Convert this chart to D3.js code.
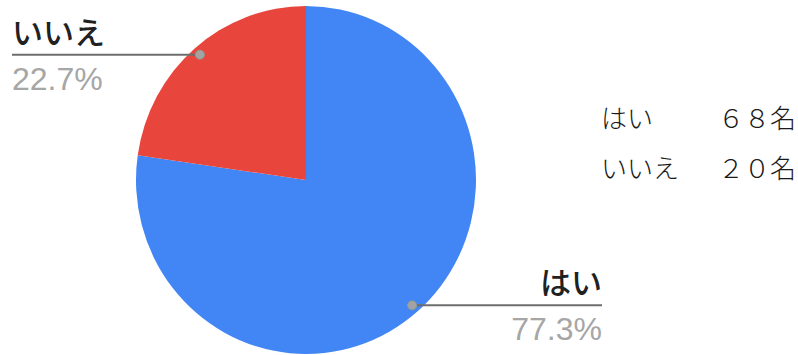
<!DOCTYPE html>
<html lang="ja">
<head>
<meta charset="utf-8">
<script src="https://cdn.jsdelivr.net/npm/d3@7"></script>
<style>
  html, body { margin: 0; padding: 0; background: #ffffff; }
  svg { display: block; }
</style>
</head>
<body>
<svg id="chart" width="798" height="355"></svg>
<script>
// Survey answers and head counts
const categories = ["はい", "いいえ"];
const counts = [68, 20];
const colors = ["#4285f4", "#e8453c"];
// Count table shown to the right of the pie
const tableLabels = ["はい", "いいえ"];
const tableCounts = ["６８名", "２０名"];

const svg = d3.select("#chart");
const cx = 306, cy = 180, r = 170, yStretch = 174 / 170;

const total = d3.sum(counts);
const data = categories.map((c, i) => ({ name: c, value: counts[i], color: colors[i] }));

// Slices: "はい" runs clockwise from 12 o'clock, "いいえ" fills the rest
const pie = d3.pie().sort(null).value(d => d.value);
const arcs = pie(data);
const arc = d3.arc().innerRadius(0).outerRadius(r);
const dotArc = d3.arc().innerRadius(162).outerRadius(162);

const g = svg.append("g").attr("transform", `translate(${cx},${cy}) scale(1,${yStretch})`);
g.selectAll("path.slice")
  .data(arcs)
  .join("path")
  .attr("class", "slice")
  .attr("d", arc)
  .attr("fill", d => d.data.color);

const fmt = d3.format(".1%");

// Callout geometry per slice: label side, line end x
const callouts = {
  "はい":   { side: "right", x: 602 },
  "いいえ": { side: "left",  x: 12 }
};

arcs.forEach(a => {
  const [dx, dy] = dotArc.centroid(a);
  const px = cx + dx, py = cy + dy * yStretch;
  const c = callouts[a.data.name];
  const anchor = c.side === "left" ? "start" : "end";

  svg.append("line")
    .attr("x1", c.x).attr("x2", px)
    .attr("y1", py).attr("y2", py)
    .attr("stroke", "#6e6e6e")
    .attr("stroke-width", 2);

  svg.append("circle")
    .attr("cx", px).attr("cy", py).attr("r", 4.5)
    .attr("fill", "#a3a3a3")
    .attr("stroke", "#8f9a92")
    .attr("stroke-width", 1);

  svg.append("text")
    .attr("x", c.x).attr("y", py - 11)
    .attr("text-anchor", anchor)
    .attr("font-family", "'Noto Sans CJK JP', sans-serif")
    .attr("font-weight", 500)
    .attr("font-size", 31)
    .attr("fill", "#212121")
    .text(a.data.name);

  svg.append("text")
    .attr("x", c.x).attr("y", py + 35)
    .attr("text-anchor", anchor)
    .attr("font-family", "'Liberation Sans', Arial, sans-serif")
    .attr("font-size", 32)
    .attr("fill", "#a6a6a6")
    .text(fmt(a.data.value / total));
});

// Count table
const rowY = d3.scalePoint().domain(tableLabels).range([128, 178]);
tableLabels.forEach((lab, i) => {
  svg.append("text")
    .attr("x", 601).attr("y", rowY(lab))
    .attr("font-family", "'Noto Sans CJK JP', sans-serif")
    .attr("font-weight", 300)
    .attr("font-size", 26)
    .attr("fill", "#1a1a1a")
    .text(lab);
  svg.append("text")
    .attr("x", 718).attr("y", rowY(lab))
    .attr("font-family", "'Noto Sans CJK JP', sans-serif")
    .attr("font-weight", 300)
    .attr("font-size", 26)
    .attr("fill", "#1a1a1a")
    .text(tableCounts[i]);
});
</script>
</body>
</html>
